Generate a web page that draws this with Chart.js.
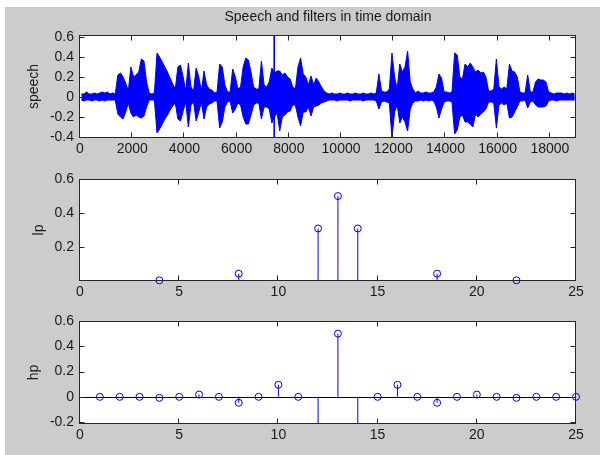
<!DOCTYPE html>
<html>
<head>
<meta charset="utf-8">
<script src="https://cdn.jsdelivr.net/npm/chart.js@4.4.0/dist/chart.umd.min.js"></script>
<style>
  body { margin: 0; background: #fff; overflow: hidden; }
  #fig { position: absolute; left: 5px; top: 7px; width: 595px; height: 448px; background: #cccccc; }
  canvas { position: absolute; left: 0; }
</style>
</head>
<body>
<div id="fig"></div>
<canvas id="speechChart" width="600" height="160" style="top:0px"></canvas>
<canvas id="lpChart" width="600" height="145" style="top:160px"></canvas>
<canvas id="hpChart" width="600" height="150" style="top:305px"></canvas>
<script>
/* speech envelope: one max and one min per 100 samples */
var speechStep = 100;
var speechMax = [
  .03,.03,.05,.03,.03,.04,.03,.04,.05,.04, .05,.03,.04,.03,.22,.24,.20,.14,.06,.30,
  .20,.22,.25,.38,.36,.15,.04,.03,.04,.44, .40,.35,.30,.25,.19,.13,.08,.30,.32,.20,
  .06,.34,.10,.06,.29,.20,.06,.26,.12,.08, .07,.04,.05,.33,.30,.12,.05,.05,.28,.20,
  .08,.10,.30,.39,.37,.25,.10,.08,.08,.36, .12,.10,.15,.29,.24,.26,.26,.22,.24,.20,
  .18,.10,.08,.30,.39,.23,.20,.12,.21,.12, .19,.15,.10,.06,.04,.03,.04,.03,.03,.04,
  .03,.03,.04,.03,.03,.04,.03,.03,.04,.03, .03,.04,.03,.04,.23,.06,.05,.05,.08,.44,
  .20,.08,.33,.25,.30,.46,.15,.08,.04,.06, .04,.04,.05,.04,.04,.05,.10,.23,.19,.05,
  .05,.04,.05,.44,.42,.20,.18,.33,.30,.34, .30,.25,.27,.24,.25,.20,.06,.06,.08,.38,
  .10,.08,.10,.08,.33,.26,.25,.20,.05,.04, .04,.22,.05,.05,.15,.18,.17,.17,.15,.05,
  .04,.03,.04,.04,.04,.03,.04,.03,.04,.03
];
var speechMin = [
  -.03,-.04,-.03,-.03,-.04,-.03,-.03,-.04,-.03,-.04, -.03,-.03,-.03,-.03,-.17,-.20,-.22,-.15,-.06,-.16,
  -.20,-.18,-.20,-.21,-.19,-.10,-.03,-.03,-.03,-.36, -.32,-.27,-.22,-.18,-.13,-.09,-.06,-.22,-.24,-.14,
  -.05,-.30,-.08,-.05,-.24,-.15,-.05,-.22,-.10,-.07, -.06,-.04,-.04,-.31,-.25,-.10,-.05,-.04,-.16,-.12,
  -.06,-.08,-.20,-.27,-.27,-.18,-.08,-.06,-.06,-.22, -.10,-.10,-.12,-.26,-.20,-.16,-.34,-.20,-.18,-.15,
  -.14,-.08,-.08,-.20,-.29,-.15,-.15,-.10,-.19,-.10, -.09,-.08,-.06,-.05,-.04,-.03,-.03,-.03,-.04,-.03,
  -.03,-.03,-.03,-.04,-.03,-.03,-.03,-.03,-.04,-.03, -.03,-.03,-.03,-.04,-.12,-.05,-.04,-.05,-.06,-.41,
  -.15,-.08,-.26,-.20,-.25,-.34,-.12,-.06,-.04,-.04, -.03,-.04,-.03,-.04,-.03,-.04,-.10,-.21,-.12,-.05,
  -.04,-.04,-.05,-.37,-.33,-.20,-.18,-.25,-.25,-.27, -.30,-.17,-.20,-.17,-.15,-.12,-.05,-.05,-.06,-.31,
  -.08,-.06,-.08,-.06,-.21,-.20,-.15,-.10,-.04,-.04, -.03,-.11,-.05,-.04,-.08,-.10,-.10,-.10,-.09,-.04,
  -.03,-.03,-.04,-.03,-.03,-.03,-.03,-.03,-.03,-.03
];
/* the single click near sample 7440 that spans the whole axis */
var speechSpikeAt = [7440];
var speechSpikeTop = [0.62];
var speechSpikeBottom = [-0.41];
var speechXTicks = [0, 2000, 4000, 6000, 8000, 10000, 12000, 14000, 16000, 18000];
var speechYTicks = [-0.4, -0.2, 0, 0.2, 0.4, 0.6];

/* filter taps n = 1..25 */
var tapIndex = [1,2,3,4,5,6,7,8,9,10,11,12,13,14,15,16,17,18,19,20,21,22,23,24,25];
var lpTaps = [0,0,0,0.006,0,-0.018,0,0.045,0,-0.095,0,0.31,0.5,0.31,0,-0.095,0,0.045,0,-0.018,0,0.006,0,0,0];
var hpTaps = [0,0,0,-0.008,0,0.018,0,-0.047,0,0.095,0,-0.31,0.5,-0.31,0,0.095,0,-0.047,0,0.018,0,-0.008,0,0,0];
var tapXTicks = [0, 5, 10, 15, 20, 25];
var lpYTicks = [0.2, 0.4, 0.6];
var hpYTicks = [-0.2, 0, 0.2, 0.4, 0.6];

var BLUE = '#0000ff';
var FONT = '"Liberation Sans", Arial, sans-serif';
Chart.defaults.font.family = FONT;
Chart.defaults.font.size = 14;
Chart.defaults.color = '#1a1a1a';

/* MATLAB style axes: white plot area, box, inward ticks, optional title and stem baseline */
var matlabAxes = {
  id: 'matlabAxes',
  beforeDraw: function(chart) {
    var ctx = chart.ctx, a = chart.chartArea;
    ctx.save();
    ctx.fillStyle = '#fff';
    ctx.fillRect(a.left, a.top, a.right - a.left, a.bottom - a.top);
    ctx.restore();
  },
  beforeDatasetsDraw: function(chart, args, opts) {
    if (opts.baseline === undefined) return;
    var ctx = chart.ctx, a = chart.chartArea;
    var py = Math.round(chart.scales.y.getPixelForValue(opts.baseline)) + 0.5;
    ctx.save();
    ctx.strokeStyle = '#000';
    ctx.lineWidth = 1;
    ctx.beginPath();
    ctx.moveTo(a.left, py);
    ctx.lineTo(a.right, py);
    ctx.stroke();
    ctx.restore();
  },
  afterDraw: function(chart, args, opts) {
    var ctx = chart.ctx, a = chart.chartArea;
    var x = chart.scales.x, y = chart.scales.y;
    var l = Math.round(a.left) - 0.5, r = Math.round(a.right) - 0.5;
    var t = Math.round(a.top) + 0.5, b = Math.round(a.bottom) - 0.5;
    var len = 5;
    ctx.save();
    ctx.strokeStyle = '#262626';
    ctx.lineWidth = 1;
    ctx.strokeRect(l, t, r - l, b - t);
    ctx.beginPath();
    x.ticks.forEach(function(tk) {
      var px = Math.round(x.getPixelForValue(tk.value)) - 0.5;
      ctx.moveTo(px, b); ctx.lineTo(px, b - len);
      ctx.moveTo(px, t); ctx.lineTo(px, t + len);
    });
    y.ticks.forEach(function(tk) {
      var py = Math.round(y.getPixelForValue(tk.value)) + 0.5;
      ctx.moveTo(l, py); ctx.lineTo(l + len, py);
      ctx.moveTo(r, py); ctx.lineTo(r - len, py);
    });
    ctx.stroke();
    if (opts.title) {
      ctx.fillStyle = '#1a1a1a';
      ctx.font = '14px ' + FONT;
      ctx.textAlign = 'center';
      ctx.textBaseline = 'middle';
      ctx.fillText(opts.title, (a.left + a.right) / 2, a.top - 17.5);
    }
    ctx.restore();
  }
};

function makeScales(xMin, xMax, xTicks, xHeight, yMin, yMax, yTicks, yLabel, yLabelPad) {
  return {
    x: {
      type: 'linear', min: xMin, max: xMax, offset: false,
      grid: { display: false, drawTicks: false, offset: false },
      border: { display: false },
      ticks: { padding: 3, autoSkip: false, maxRotation: 0, callback: function(v) { return String(v); } },
      afterBuildTicks: function(s) { s.ticks = xTicks.map(function(v) { return { value: v }; }); },
      afterFit: function(s) { s.height = xHeight; }
    },
    y: {
      type: 'linear', min: yMin, max: yMax,
      grid: { display: false, drawTicks: false },
      border: { display: false },
      ticks: { padding: 6, autoSkip: false, callback: function(v) { return String(v); } },
      title: { display: true, text: yLabel, padding: { top: yLabelPad, bottom: 0 } },
      afterBuildTicks: function(s) { s.ticks = yTicks.map(function(v) { return { value: v }; }); },
      afterFit: function(s) { s.width = 80; }
    }
  };
}

function baseOptions(padTop, scales, axesOpts) {
  return {
    responsive: false,
    animation: false,
    events: [],
    layout: { padding: { left: 0, right: 24, top: padTop, bottom: 0 } },
    plugins: { legend: { display: false }, tooltip: { enabled: false }, matlabAxes: axesOpts },
    scales: scales
  };
}

/* speech waveform drawn as a filled band between its upper and lower envelope */
var speechUpper = speechMax.map(function(v, i) { return { x: i * speechStep + speechStep / 2, y: v }; });
var speechLower = speechMin.map(function(v, i) { return { x: i * speechStep + speechStep / 2, y: v }; });
var speechSpikes = [];
speechSpikeAt.forEach(function(s, i) {
  speechSpikes.push({ x: s, y: speechSpikeTop[i] }, { x: s, y: speechSpikeBottom[i] }, { x: s, y: null });
});

new Chart(document.getElementById('speechChart'), {
  type: 'line',
  data: {
    datasets: [{
      data: speechUpper,
      borderColor: BLUE,
      backgroundColor: BLUE,
      borderWidth: 1,
      pointRadius: 0,
      tension: 0,
      fill: '+1',
      clip: 0
    }, {
      data: speechLower,
      borderColor: BLUE,
      borderWidth: 1,
      pointRadius: 0,
      tension: 0,
      fill: false,
      clip: 0
    }, {
      data: speechSpikes,
      borderColor: BLUE,
      borderWidth: 1,
      pointRadius: 0,
      spanGaps: false,
      fill: false,
      clip: 0
    }]
  },
  options: baseOptions(35,
    makeScales(0, 19000, speechXTicks, 22, -0.41, 0.62, speechYTicks, 'speech', 26),
    { title: 'Speech and filters in time domain' }),
  plugins: [matlabAxes]
});

function stemBars(ys) {
  return tapIndex.map(function(n, i) { return { x: n, y: [0, ys[i]] }; });
}
function stemMarkers(ys, lo, hi) {
  return tapIndex.map(function(n, i) { return { x: n, y: ys[i] }; })
    .filter(function(p) { return p.y >= lo && p.y <= hi; });
}

function stemChart(id, ys, yMin, yMax, yTicks, label, labelPad, padTop, xHeight, axesOpts) {
  new Chart(document.getElementById(id), {
    type: 'scatter',
    data: {
      datasets: [{
        type: 'bar',
        data: stemBars(ys),
        backgroundColor: BLUE,
        borderWidth: 0,
        barThickness: 1,
        inflateAmount: 0,
        grouped: false,
        clip: 0
      }, {
        type: 'scatter',
        data: stemMarkers(ys, yMin, yMax),
        pointStyle: 'circle',
        pointRadius: 3.5,
        pointBorderWidth: 1,
        pointBorderColor: BLUE,
        pointBackgroundColor: 'rgba(0,0,0,0)',
        showLine: false,
        clip: 8
      }]
    },
    options: baseOptions(padTop,
      makeScales(0, 25, tapXTicks, xHeight, yMin, yMax, yTicks, label, labelPad),
      axesOpts),
    plugins: [matlabAxes]
  });
}

stemChart('lpChart', lpTaps, 0.002, 0.6, lpYTicks, 'lp', 31, 19, 24, {});
stemChart('hpChart', hpTaps, -0.215, 0.6, hpYTicks, 'hp', 26, 16, 31, { baseline: 0 });
</script>
</body>
</html>
